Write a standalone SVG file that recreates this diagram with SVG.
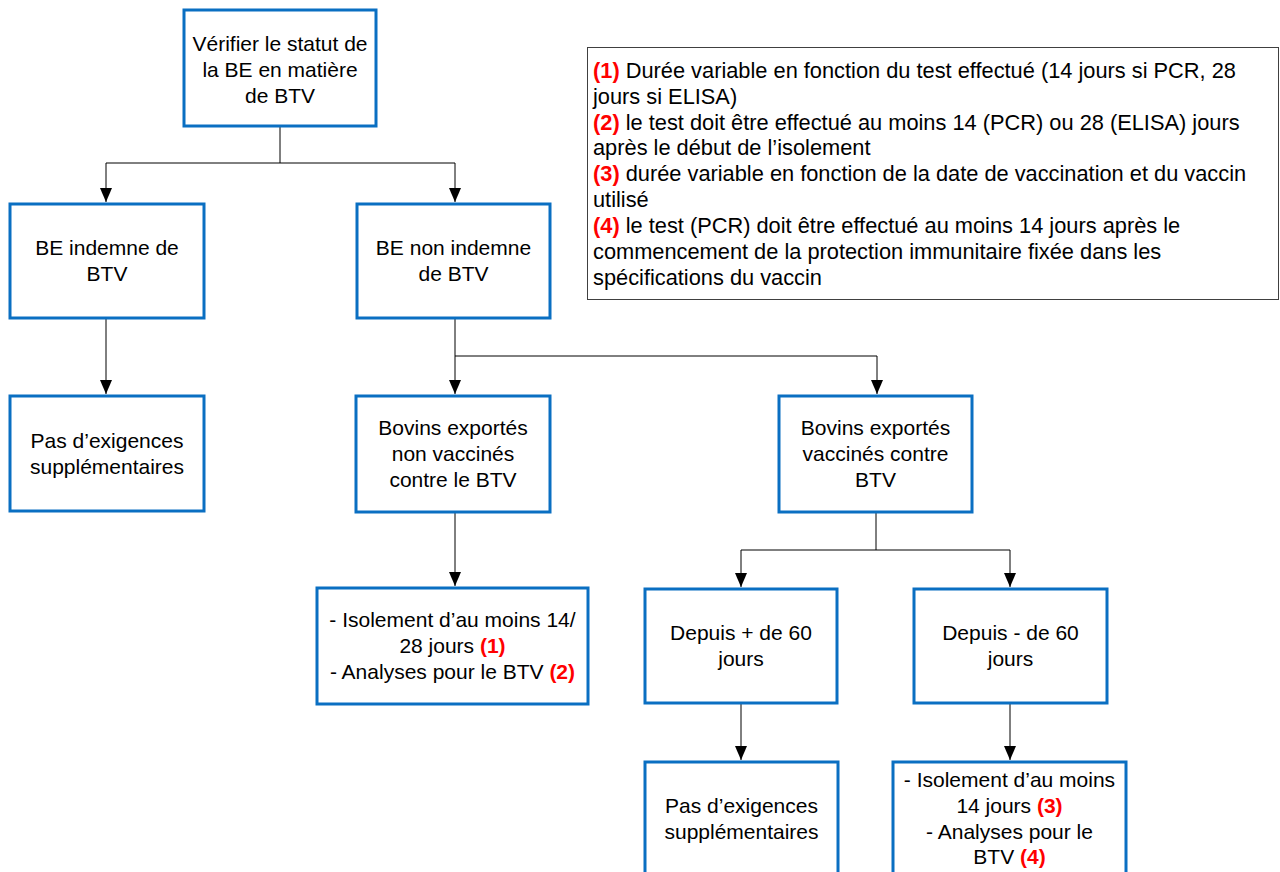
<svg xmlns="http://www.w3.org/2000/svg" width="1280" height="872" viewBox="0 0 1280 872">
<style>
.box{fill:#fff;stroke:#0a6fc2;stroke-width:3}
.t{font-family:"Liberation Sans",Arial,sans-serif;font-size:21px;fill:#000;text-anchor:middle}
.lg{font-family:"Liberation Sans",Arial,sans-serif;font-size:21.8px;fill:#000}
.r{fill:#ff0000;font-weight:bold}
.c{fill:none;stroke:#000;stroke-width:1}
</style>
<defs>
<marker id="ah" markerUnits="userSpaceOnUse" markerWidth="14" markerHeight="12" refX="14" refY="6" orient="auto">
<path d="M0,0 L14,6 L0,12 z" fill="#000"/>
</marker>
</defs>
<rect width="1280" height="872" fill="#fff"/>
<g id="connectors">
<path class="c" d="M280,126 V163 M106,163 H455"/>
<path class="c" d="M106,163 V202" marker-end="url(#ah)"/>
<path class="c" d="M455,163 V202" marker-end="url(#ah)"/>
<path class="c" d="M106,318 V394" marker-end="url(#ah)"/>
<path class="c" d="M455,318 V356 H877"/>
<path class="c" d="M455,356 V394" marker-end="url(#ah)"/>
<path class="c" d="M877,356 V394" marker-end="url(#ah)"/>
<path class="c" d="M455,512 V586" marker-end="url(#ah)"/>
<path class="c" d="M876,512 V550 M741,550 H1010"/>
<path class="c" d="M741,550 V587" marker-end="url(#ah)"/>
<path class="c" d="M1010,550 V587" marker-end="url(#ah)"/>
<path class="c" d="M741,703 V760" marker-end="url(#ah)"/>
<path class="c" d="M1010,703 V760" marker-end="url(#ah)"/>
</g>
<g id="n1"><rect class="box" x="184" y="10" width="192" height="116"/>
<text class="t" x="280" y="51">Vérifier le statut de</text>
<text class="t" x="280" y="77">la BE en matière</text>
<text class="t" x="280" y="103">de BTV</text></g>
<g id="n2"><rect class="box" x="10" y="204" width="194" height="114"/>
<text class="t" x="107" y="255">BE indemne de</text>
<text class="t" x="107" y="281">BTV</text></g>
<g id="n3"><rect class="box" x="357" y="204" width="193" height="114"/>
<text class="t" x="453.5" y="255">BE non indemne</text>
<text class="t" x="453.5" y="281">de BTV</text></g>
<g id="n4"><rect class="box" x="10" y="396" width="194" height="115"/>
<text class="t" x="107" y="448">Pas d’exigences</text>
<text class="t" x="107" y="474">supplémentaires</text></g>
<g id="n5"><rect class="box" x="356" y="396" width="194" height="116"/>
<text class="t" x="453" y="435">Bovins exportés</text>
<text class="t" x="453" y="461">non vaccinés</text>
<text class="t" x="453" y="487">contre le BTV</text></g>
<g id="n6"><rect class="box" x="779" y="396" width="193" height="116"/>
<text class="t" x="875.5" y="435">Bovins exportés</text>
<text class="t" x="875.5" y="461">vaccinés contre</text>
<text class="t" x="875.5" y="487">BTV</text></g>
<g id="n7"><rect class="box" x="317" y="588" width="271" height="116"/>
<text class="t" x="452.5" y="627">- Isolement d’au moins 14/</text>
<text class="t" x="452.5" y="653">28 jours <tspan class="r">(1)</tspan></text>
<text class="t" x="452.5" y="679">- Analyses pour le BTV <tspan class="r">(2)</tspan></text></g>
<g id="n8"><rect class="box" x="645" y="589" width="192" height="114"/>
<text class="t" x="741" y="640">Depuis + de 60</text>
<text class="t" x="741" y="666">jours</text></g>
<g id="n9"><rect class="box" x="914" y="589" width="193" height="114"/>
<text class="t" x="1010.5" y="640">Depuis - de 60</text>
<text class="t" x="1010.5" y="666">jours</text></g>
<g id="n10"><rect class="box" x="645" y="762" width="193" height="130"/>
<text class="t" x="741.5" y="813">Pas d’exigences</text>
<text class="t" x="741.5" y="839">supplémentaires</text></g>
<g id="n11"><rect class="box" x="893" y="762" width="233" height="130"/>
<text class="t" x="1009.5" y="787">- Isolement d’au moins</text>
<text class="t" x="1009.5" y="813">14 jours <tspan class="r">(3)</tspan></text>
<text class="t" x="1009.5" y="839">- Analyses pour le</text>
<text class="t" x="1009.5" y="864">BTV <tspan class="r">(4)</tspan></text></g>
<g id="legend"><rect x="587.5" y="47.5" width="691" height="252" fill="#fff" stroke="#404040" stroke-width="1"/>
<text class="lg" x="593" y="78"><tspan class="r">(1)</tspan> Durée variable en fonction du test effectué (14 jours si PCR, 28</text>
<text class="lg" x="593" y="104">jours si ELISA)</text>
<text class="lg" x="593" y="130"><tspan class="r">(2)</tspan> le test doit être effectué au moins 14 (PCR) ou 28 (ELISA) jours</text>
<text class="lg" x="593" y="155">après le début de l’isolement</text>
<text class="lg" x="593" y="181"><tspan class="r">(3)</tspan> durée variable en fonction de la date de vaccination et du vaccin</text>
<text class="lg" x="593" y="207">utilisé</text>
<text class="lg" x="593" y="233"><tspan class="r">(4)</tspan> le test (PCR) doit être effectué au moins 14 jours après le</text>
<text class="lg" x="593" y="259">commencement de la protection immunitaire fixée dans les</text>
<text class="lg" x="593" y="285">spécifications du vaccin</text></g>
</svg>
